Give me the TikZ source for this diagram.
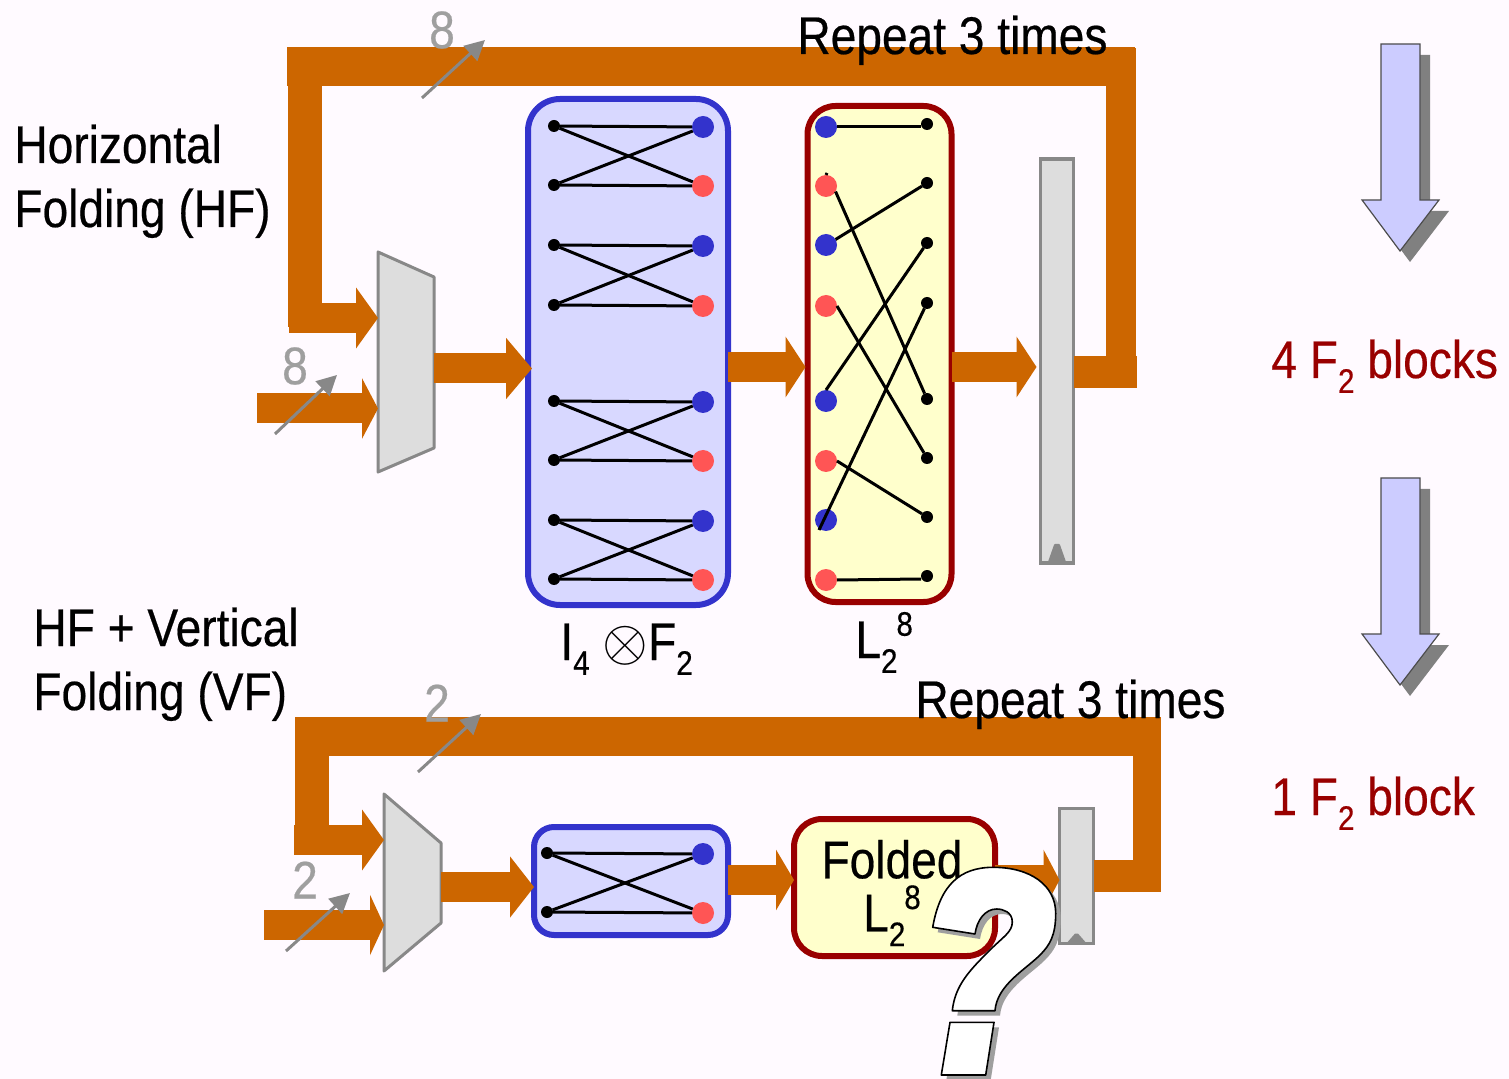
\documentclass[tikz,border=0pt]{standalone}
\usepackage{fontspec}
\setmainfont{Liberation Sans}[FakeStretch=0.87,FakeBold=0.4]
\usetikzlibrary{arrows.meta}
\definecolor{busorange}{HTML}{CC6600}
\definecolor{pagetint}{HTML}{FFFAFF}
\definecolor{muxgray}{HTML}{DDDDDD}
\definecolor{edgegray}{HTML}{888888}
\definecolor{foldblue}{HTML}{3333CC}
\definecolor{foldfill}{HTML}{D8D8FF}
\definecolor{permred}{HTML}{990000}
\definecolor{permfill}{HTML}{FFFFCC}
\definecolor{dotred}{HTML}{FF5555}
\definecolor{downfill}{HTML}{CCCCFF}
\newcommand{\subidx}[1]{\raisebox{-0.28em}{\fontsize{17}{17}\selectfont #1}}
\newcommand{\supidx}[1]{\raisebox{0.42em}{\fontsize{17}{17}\selectfont #1}}
\newcommand{\qmarkpath}{(932.7,927.3) .. controls (940,885) and (960,867.3) .. (993.3,867.3)
  .. controls (1030,867.3) and (1055.7,885) .. (1055.7,913.3)
  .. controls (1055.7,935) and (1050,945) .. (1040,955)
  .. controls (1025,970) and (997,985) .. (995,1010.7) -- (952.3,1010.7)
  .. controls (955,985) and (970,970) .. (990,950)
  .. controls (1003,937) and (1012.3,932) .. (1012.3,922)
  .. controls (1012.3,912) and (1003,909) .. (996.7,909)
  .. controls (985,909) and (977,920) .. (975,934) -- cycle
  (950,1022.3) -- (994,1022.3) -- (985.7,1075) -- (941.3,1075) -- cycle}
\newcommand{\downpath}[1]{(1381,#1) -- (1420,#1) -- (1420,#1+156) -- (1439,#1+156) -- (1400,#1+207)
  -- (1362,#1+156) -- (1381,#1+156) -- cycle}
\tikzset{
  bus/.style={busorange,line width=15pt},
  bustip/.style={busorange,line width=15pt,-{Triangle[length=#1,width=30pt]}},
  bustip/.default=12pt,
  muxbox/.style={rectangle,inner sep=0pt,outer sep=0pt},
  muxbody/.style={draw=edgegray,fill=muxgray,line width=1.5pt,line join=round},
  reg/.style={rectangle,draw=edgegray,fill=muxgray,line width=1.8pt,inner sep=0pt,outer sep=0pt},
  clockmark/.style={fill=edgegray,draw=edgegray,line width=1pt,line join=round},
  foldbox/.style={rectangle,draw=foldblue,fill=foldfill,line width=3pt,inner sep=0pt,outer sep=0pt},
  permbox/.style={rectangle,draw=permred,fill=permfill,line width=3pt,inner sep=0pt,outer sep=0pt},
  blackdot/.style={circle,fill=black,minimum size=6pt,inner sep=0pt,outer sep=0pt},
  bluedot/.style={circle,fill=foldblue,minimum size=11pt,inner sep=0pt,outer sep=0pt},
  reddot/.style={circle,fill=dotred,minimum size=11pt,inner sep=0pt,outer sep=0pt},
  wire/.style={black,line width=1.5pt},
  slash/.style={edgegray,line width=1.5pt,-{Triangle[length=10pt,width=10pt]}},
  widthlabel/.style={text=gray!75,font=\fontsize{26.5}{30}\selectfont,inner sep=0pt},
  caption/.style={anchor=base west,inner sep=0pt,align=left,font=\fontsize{26.5}{32}\selectfont},
  redcaption/.style={caption,text=permred},
  downshade/.style={fill=gray},
  downbody/.style={draw=black!70,fill=downfill,line width=0.6pt,line join=miter},
}
\begin{document}
\begin{tikzpicture}[x=0.5pt,y=-0.5pt]
\fill[pagetint] (0,0) rectangle (1509,1079);
\useasboundingbox (0,0) rectangle (1509,1079);

% rows of the buses
\coordinate (rowa) at (0,318);
\coordinate (rowb) at (0,408.5);
\coordinate (rowc) at (0,368.5);
\coordinate (rowd) at (0,367);
\coordinate (rowe) at (0,372);
\coordinate (rowf) at (0,840);
\coordinate (rowg) at (0,925);
\coordinate (rowh) at (0,887);
\coordinate (rowi) at (0,880);
\coordinate (rowj) at (0,876);
\coordinate (ina) at (257,408.5);
\coordinate (inb) at (264,925);

% upper datapath
\node[muxbox,minimum width=28pt,minimum height=110pt] (muxa) at (406,362) {};
\draw[muxbody] (muxa.north west) -- ([yshift=-12.5pt]muxa.north east) -- ([yshift=12pt]muxa.south east) -- (muxa.south west) -- cycle;
\node[foldbox,rounded corners=16pt,minimum width=100pt,minimum height=253pt] (iblock) at (628,352) {};
\node[permbox,rounded corners=14pt,minimum width=72pt,minimum height=248pt] (lblock) at (879.5,354) {};
\node[reg,minimum width=16.5pt,minimum height=202pt] (rega) at (1057,361) {};
\fill[clockmark] ([xshift=-4pt,yshift=0.5pt]rega.south) -- ++(6,-17) -- ++(4,0) -- ++(6,17) -- cycle;

\draw[bus,line width=17pt] (304.5,67) -- (304.5,327);
\coordinate (busastart) at (289,318);
\draw[bustip=11pt] (busastart) -- (muxa.west |- rowa);
\draw[bustip=8pt] (ina) -- (muxa.west |- rowb);
\draw[bustip=13pt,shorten >=-2pt] (muxa.east |- rowc) -- (iblock.west |- rowc);
\draw[bustip=10pt,shorten >=1pt] (iblock.east |- rowd) -- (lblock.west |- rowd);
\draw[bustip=10pt,shorten >=2pt] (lblock.east |- rowd) -- (rega.west |- rowd);
\draw[bus,line width=16pt] (rega.east |- rowe) -- (1137,372);
\draw[bus] (1121,388) -- (1121,48);
\draw[bus,line width=19.5pt] (287,67) -- (1135,67);

\node[widthlabel] (widtha) at (442,30) {8};
\node[widthlabel] (widthb) at (295,366) {8};
\coordinate (slasha) at (422,98);
\coordinate (slashb) at (485,40);
\coordinate (slashc) at (275,434);
\coordinate (slashd) at (337,375);
\draw[slash] (slasha) -- (slashb);
\draw[slash] (slashc) -- (slashd);

\node[caption] (repeata) at (797,54) {Repeat 3 times};
\node[caption] (hftext) at (14,227) {Horizontal\\Folding (HF)};
\node[caption] (iname) at (560,660) {I\subidx{4} \scalebox{1.18}{$\otimes$}F\subidx{2}};
\node[caption] (lname) at (855,658) {L\subidx{2}\hspace{-0.02em}\supidx{8}};

% butterflies of the first stage
\foreach \n/\ya/\yb in {a/126/185,b/245/305,c/401/460,d/520/579}{
  \node[blackdot] (tl\n) at (554,\ya) {};
  \node[blackdot] (bl\n) at (554,\yb) {};
  \node[bluedot] (tr\n) at (703,\ya+1) {};
  \node[reddot] (br\n) at (703,\yb+1) {};
  \draw[wire] (tl\n) -- (tr\n);
  \draw[wire] (bl\n) -- (br\n);
  \draw[wire] (tl\n) -- (br\n);
  \draw[wire] (bl\n) -- (tr\n);
}

% perm dots
\foreach \n/\y in {a/127,c/245,e/401,g/520}
  \node[bluedot] (p\n) at (826,\y) {};
\foreach \n/\y in {b/186,d/306,f/461,h/580}
  \node[reddot] (p\n) at (826,\y) {};
\foreach \n/\y in {a/124,b/183,c/243,d/303,e/399,f/458,g/517,h/576}
  \node[blackdot] (q\n) at (927,\y) {};
\draw[wire] (pa.east) -- (qa.west |- pa.east);
\draw[wire] (pb.-30) -- (qe);
\draw[wire] (pb.north) -- ++(1,-2);
\draw[wire] (pc.30) -- (qb);
\draw[wire] (pd.east) -- (qf);
\draw[wire] (pe.north) -- (qc);
\draw[wire] (pf.east) -- (qg);
\coordinate (pgfoot) at (819,530);
\draw[wire] (pgfoot) -- (qd);
\draw[wire] (ph.east) -- ([yshift=-1.5pt]qh.west);

% lower datapath
\node[muxbox,minimum width=28.5pt,minimum height=88.5pt] (muxb) at (412.5,882.5) {};
\draw[muxbody] (muxb.north west) -- ([yshift=-24.5pt]muxb.north east) -- ([yshift=24pt]muxb.south east) -- (muxb.south west) -- cycle;
\node[foldbox,rounded corners=10pt,minimum width=97pt,minimum height=54pt] (iblockb) at (631,881) {};
\node[permbox,rounded corners=14pt,minimum width=100.5pt,minimum height=68.5pt] (lblockb) at (894.5,887.5) {};
\node[align=center,inner sep=0pt,font=\fontsize{26.5}{26.5}\selectfont] (lblockname) at (892,893) {Folded\\L\subidx{2}\hspace{-0.02em}\supidx{8}};
\node[reg,minimum width=17pt,minimum height=67.5pt] (regb) at (1076.5,876) {};
\fill[clockmark] ([xshift=-4pt,yshift=0.5pt]regb.south) -- ++(7,-8) -- ++(2,0) -- ++(7,8) -- cycle;

\draw[bus,line width=17pt] (311.5,736) -- (311.5,853);
\coordinate (busbstart) at (294,840);
\draw[bustip=11pt] (busbstart) -- (muxb.west |- rowf);
\draw[bustip=7pt] (inb) -- (muxb.west |- rowg);
\draw[bustip=12pt] (muxb.east |- rowh) -- (iblockb.west |- rowh);
\draw[bustip=9pt] (iblockb.east |- rowi) -- (lblockb.west |- rowi);
\draw[bustip=8pt] (lblockb.east |- rowi) -- (regb.west |- rowi);
\draw[bus,line width=16pt] (regb.east |- rowj) -- (1160,876);
\draw[bus,line width=14pt] (1146.5,892) -- (1146.5,717);
\draw[bus,line width=19.5pt] (295,736) -- (1160,736);

\node[widthlabel] (widthc) at (437,703) {2};
\node[widthlabel] (widthd) at (305,880) {2};
\coordinate (slashe) at (418,772);
\coordinate (slashf) at (481,714);
\coordinate (slashg) at (286,951);
\coordinate (slashh) at (350,893);
\draw[slash] (slashe) -- (slashf);
\draw[slash] (slashg) -- (slashh);

\node[caption] (repeatb) at (915,718) {Repeat 3 times};
\node[caption] (vftext) at (33,710) {HF + Vertical\\Folding (VF)};

\foreach \n/\ya/\yb in {e/853/912}{
  \node[blackdot] (tl\n) at (547,\ya) {};
  \node[blackdot] (bl\n) at (547,\yb) {};
  \node[bluedot] (tr\n) at (703,\ya+1) {};
  \node[reddot] (br\n) at (703,\yb+1) {};
  \draw[wire] (tl\n) -- (tr\n);
  \draw[wire] (bl\n) -- (br\n);
  \draw[wire] (tl\n) -- (br\n);
  \draw[wire] (bl\n) -- (tr\n);
}

% question mark
\fill[gray!75,shift={(5,5)}] \qmarkpath;
\draw[fill=white,draw=black,line width=0.8pt,line join=round] \qmarkpath;

% right column
\fill[downshade,shift={(10,11)}] \downpath{44};
\draw[downbody] \downpath{44};
\fill[downshade,shift={(10,11)}] \downpath{478};
\draw[downbody] \downpath{478};
\node[redcaption] (blocksa) at (1271,378) {4 F\subidx{2} blocks};
\node[redcaption] (blocksb) at (1271,815) {1 F\subidx{2} block};
\end{tikzpicture}
\end{document}
